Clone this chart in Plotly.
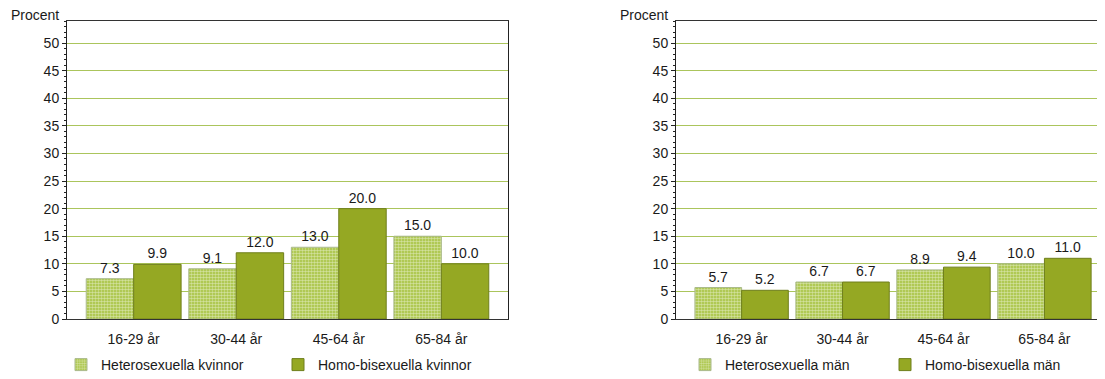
import plotly.graph_objects as go

categories = ["16-29 år", "30-44 år", "45-64 år", "65-84 år"]
hetero_kvinnor = [7.3, 9.1, 13.0, 15.0]
homo_kvinnor = [9.9, 12.0, 20.0, 10.0]
hetero_man = [5.7, 6.7, 8.9, 10.0]
homo_man = [5.2, 6.7, 9.4, 11.0]
y_ticks = [0, 5, 10, 15, 20, 25, 30, 35, 40, 45, 50]

# page body has an 8px default margin: figure is offset by (8, 8)
OFF = 8
W, H = 1105 - OFF, 379 - OFF
LIGHT = "#a3c038"
DARK = "#95a823"
DARK_EDGE = "#6f7f1c"
LIGHT_EDGE = "#a9b98a"
FONT = "Liberation Sans, Arial, sans-serif"
FS = 14


def px(x):
    return (x - OFF) / W


def py(y):
    return 1 - (y - OFF) / H


fig = go.Figure()


def add_pair(het, hom, xa, ya, legs, names):
    fig.add_trace(go.Bar(
        x=categories, y=het, name=names[0], xaxis=xa, yaxis=ya, legend=legs[0],
        marker=dict(color=LIGHT, line=dict(color=LIGHT_EDGE, width=1),
                    pattern=dict(shape=".", fgcolor="white", bgcolor=LIGHT,
                                 size=3, solidity=0.55, fillmode="overlay")),
        text=[f"{v:.1f}" for v in het], textposition="outside",
        textfont=dict(size=FS, color="#1a1a1a", family=FONT), cliponaxis=False,
    ))
    fig.add_trace(go.Bar(
        x=categories, y=hom, name=names[1], xaxis=xa, yaxis=ya, legend=legs[1],
        marker=dict(color=DARK, line=dict(color=DARK_EDGE, width=1)),
        text=[f"{v:.1f}" for v in hom], textposition="outside",
        textfont=dict(size=FS, color="#1a1a1a", family=FONT), cliponaxis=False,
    ))


add_pair(hetero_kvinnor, homo_kvinnor, "x", "y", ["legend", "legend2"],
         ["Heterosexuella kvinnor", "Homo-bisexuella kvinnor"])
add_pair(hetero_man, homo_man, "x2", "y2", ["legend3", "legend4"],
         ["Heterosexuella män", "Homo-bisexuella män"])

xcommon = dict(showline=True, linecolor="#333333", linewidth=1, mirror=True,
               ticks="", showgrid=False, tickfont=dict(size=FS, color="#1a1a1a", family=FONT),
               ticklabelstandoff=7, fixedrange=True)
ycommon = dict(range=[0, 54], tickvals=y_ticks, showline=True, linecolor="#222222",
               linewidth=1, mirror=True, ticks="outside", ticklen=4, tickcolor="#222222",
               showgrid=True, gridcolor="#abc55c", gridwidth=1, zeroline=False,
               minor=dict(dtick=1, ticks="outside", ticklen=2, tickcolor="#222222", showgrid=False),
               tickfont=dict(size=FS, color="#1a1a1a", family=FONT), fixedrange=True)


def leg(xpage):
    return dict(orientation="h", x=px(xpage), y=py(365), xanchor="left", yanchor="middle",
                font=dict(size=FS, family=FONT, color="#1a1a1a"), bgcolor="rgba(0,0,0,0)")


fig.update_layout(
    width=W, height=H,
    margin=dict(l=0, r=0, t=0, b=0, autoexpand=False),
    paper_bgcolor="white", plot_bgcolor="white",
    showlegend=True,
    barmode="group", bargap=0.075, bargroupgap=0,
    font=dict(family=FONT, size=FS, color="#1a1a1a"),
    xaxis=dict(domain=[px(67), px(508)], range=[-0.65, 3.65], anchor="y", **xcommon),
    yaxis=dict(domain=[py(319), py(21)], anchor="x", **ycommon),
    xaxis2=dict(domain=[px(676), 1.0], range=[-0.65, 3.6], anchor="y2", **xcommon),
    yaxis2=dict(domain=[py(319), py(21)], anchor="x2", **ycommon),
    legend=leg(61), legend2=leg(278), legend3=leg(685), legend4=leg(885),
    annotations=[
        dict(text="Procent", x=px(61), y=py(15), xref="paper", yref="paper",
             xanchor="right", yanchor="middle", showarrow=False, font=dict(size=FS, family=FONT)),
        dict(text="Procent", x=px(670), y=py(15), xref="paper", yref="paper",
             xanchor="right", yanchor="middle", showarrow=False, font=dict(size=FS, family=FONT)),
    ],
)

fig.write_html("out.html")
